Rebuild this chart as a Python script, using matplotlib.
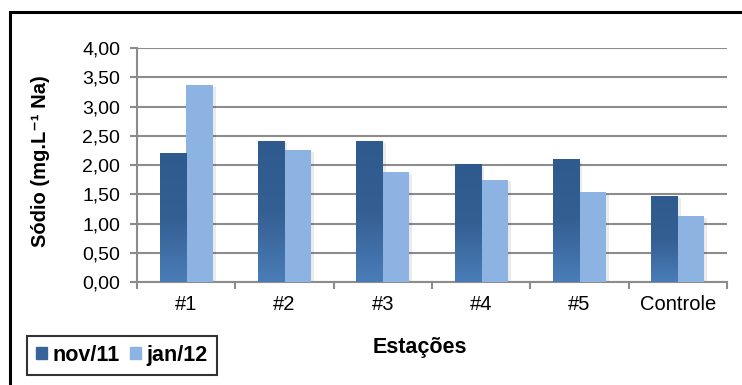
import numpy as np
import matplotlib.pyplot as plt
from matplotlib.patches import Patch, Rectangle
from matplotlib.colors import LinearSegmentedColormap

plt.rcParams['font.family'] = ['Liberation Sans', 'DejaVu Sans']

estacoes = ['#1', '#2', '#3', '#4', '#5', 'Controle']
nov11 = [2.20, 2.40, 2.40, 2.00, 2.09, 1.47]
jan12 = [3.36, 2.26, 1.88, 1.75, 1.54, 1.13]

cor_nov = '#37659A'
cor_jan = '#8DB3E2'
cor_grade = '#8C8C8C'

fig = plt.figure(figsize=(7.42, 3.85), dpi=100)
ax = fig.add_axes([0.1846, 0.2675, 0.7952, 0.6078])

x = np.arange(len(estacoes))
w = 0.27
b1 = ax.bar(x - w / 2, nov11, w, color=cor_nov, zorder=3)
b2 = ax.bar(x + w / 2, jan12, w, color=cor_jan, zorder=3)

# degradê vertical nas barras escuras
grad = LinearSegmentedColormap.from_list('g', ['#4A7DB8', '#345F93', '#2F5A8E'])
g = np.linspace(0, 1, 256).reshape(-1, 1)
for p in b1:
    x0, h = p.get_x(), p.get_height()
    ax.imshow(g, cmap=grad, aspect='auto', origin='lower',
              extent=(x0, x0 + p.get_width(), 0, h), zorder=3.5)

# sombra leve à direita das barras
for p in list(b1) + list(b2):
    ax.add_patch(Rectangle((p.get_x() + p.get_width(), 0), 0.03, p.get_height() - 0.03,
                           color='#000000', alpha=0.08, lw=0, zorder=2.5))

ax.set_xlim(-0.5, len(estacoes) - 0.5)
ax.set_ylim(0, 4)
ax.set_yticks(np.arange(0, 4.01, 0.5))
ax.set_yticklabels([f'{v:.2f}'.replace('.', ',') for v in np.arange(0, 4.01, 0.5)])
ax.set_xticks(x)
ax.set_xticklabels(estacoes)
ax.set_xticks(np.arange(-0.5, len(estacoes)), minor=True)
ax.tick_params(axis='x', which='major', length=0, pad=9, labelsize=14.5)
ax.tick_params(axis='x', which='minor', length=5, width=1.5, color=cor_grade)
ax.tick_params(axis='y', length=5, width=1.5, color=cor_grade, labelsize=14, pad=7)
ax.yaxis.grid(True, color=cor_grade, lw=1.5, zorder=0)
ax.set_axisbelow(True)
for s in ['top', 'right']:
    ax.spines[s].set_visible(False)
for s in ['left', 'bottom']:
    ax.spines[s].set_color(cor_grade)
    ax.spines[s].set_linewidth(1.5)

ax.set_ylabel('Sódio (mg.L⁻¹ Na)', fontsize=14.5, fontweight='bold')
ax.yaxis.set_label_coords(-0.148, 0.515)
fig.text(420 / 742, 1 - 348 / 385, 'Estações', fontsize=15.5, fontweight='bold',
         ha='center', va='center')

handles = [Patch(color=cor_nov), Patch(color=cor_jan)]
leg = fig.legend(handles, ['nov/11', 'jan/12'], loc='lower left',
                 bbox_to_anchor=(27 / 742, 1 - 375 / 385), ncol=2,
                 prop={'weight': 'bold', 'size': 15.5}, frameon=True, fancybox=False,
                 handlelength=0.5, handleheight=0.5, handletextpad=0.25,
                 columnspacing=0.5, borderpad=0.42, borderaxespad=0)
leg.get_frame().set_edgecolor('black')
leg.get_frame().set_linewidth(1.5)

# moldura externa
fig.patches.append(Rectangle((10 / 742, -0.1), 1.2, 1 - 12 / 385 + 0.1,
                             transform=fig.transFigure, fill=False,
                             edgecolor='black', lw=2.2))

fig.savefig('out.png', dpi=100)
